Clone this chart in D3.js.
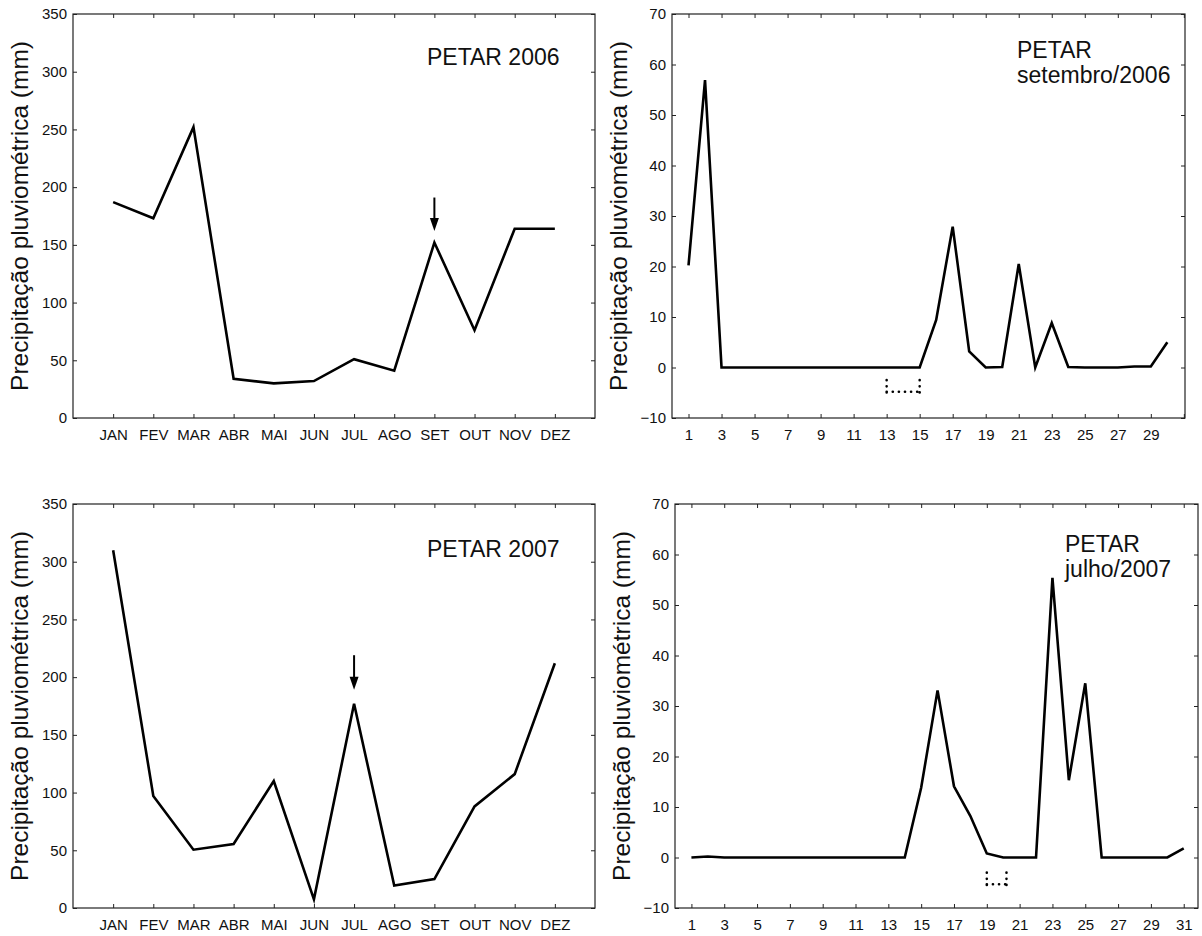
<!DOCTYPE html>
<html>
<head>
<meta charset="utf-8">
<script src="https://cdn.jsdelivr.net/npm/d3@7"></script>
<style>
  body { margin: 0; background: #fff; }
  svg text { font-family: "Liberation Sans", Arial, Helvetica, sans-serif; fill: #111; }
</style>
</head>
<body>
<script>
// month labels (portuguese)
var months = ["JAN", "FEV", "MAR", "ABR", "MAI", "JUN", "JUL", "AGO", "SET", "OUT", "NOV", "DEZ"];

// monthly rainfall (mm)
var rain2006 = [187, 173, 252, 34, 30, 32, 51, 41, 152, 76, 164, 164];
var rain2007 = [310, 97, 50.5, 55.5, 110, 7.5, 177, 19.5, 25, 88, 116, 212];

// daily rainfall (mm)
var rainSet2006 = [20.2, 56.9, 0, 0, 0, 0, 0, 0, 0, 0, 0, 0, 0, 0, 0,
                   9.4, 27.9, 3.2, 0, 0.1, 20.5, 0, 8.8, 0.1, 0, 0, 0, 0.2, 0.2, 5.0];
var rainJul2007 = [0, 0.2, 0, 0, 0, 0, 0, 0, 0, 0, 0, 0, 0, 0, 13.8, 33.1,
                   14.1, 8.2, 0.8, 0, 0, 0, 55.4, 15.3, 34.5, 0, 0, 0, 0, 0, 1.8];

// tick values
var monthTicks = d3.range(1, 13);
var dayTicks = d3.range(1, 32, 2);
var monthlyYTicks = [0, 50, 100, 150, 200, 250, 300, 350];
var dailyYTicks = [-10, 0, 10, 20, 30, 40, 50, 60, 70];

// annotations
var arrow2006 = {x: 9, from: 191, to: 162};
var arrow2007 = {x: 7, from: 219, to: 189};
var gapSet2006 = {x0: 13, x1: 15, top: -2.5, bottom: -6, mid: -4.8};
var gapJul2007 = {x0: 19, x1: 20.2, top: -3, bottom: -6.5, mid: -5.3};

var yTitle = "Precipitação pluviométrica (mm)";

var svg = d3.select("body").append("svg")
    .attr("width", 1202)
    .attr("height", 936);

function drawPanel(p) {
  var x = d3.scaleLinear().domain(p.xDomain).range([p.left, p.right]);
  var y = d3.scaleLinear().domain(p.yDomain).range([p.bottom, p.top]);
  var g = svg.append("g");

  // bottom axis with inward ticks
  var xb = g.append("g")
      .attr("transform", "translate(0," + p.bottom + ")")
      .call(d3.axisBottom(x).tickValues(p.xTicks).tickSizeInner(-4).tickSizeOuter(0)
        .tickPadding(11.4).tickFormat(p.xFormat));
  // top axis, ticks only
  var xt = g.append("g")
      .attr("transform", "translate(0," + p.top + ")")
      .call(d3.axisTop(x).tickValues(p.xTicks).tickSizeInner(-4).tickSizeOuter(0).tickFormat(""));
  // left axis
  var yl = g.append("g")
      .attr("transform", "translate(" + p.left + ",0)")
      .call(d3.axisLeft(y).tickValues(p.yTicks).tickSizeInner(-4).tickSizeOuter(0).tickPadding(6));
  // right axis, ticks only
  var yr = g.append("g")
      .attr("transform", "translate(" + p.right + ",0)")
      .call(d3.axisRight(y).tickValues(p.yTicks).tickSizeInner(-4).tickSizeOuter(0).tickFormat(""));

  [xb, xt, yl, yr].forEach(function(a) {
    a.select(".domain").remove();
    a.selectAll(".tick line").attr("stroke", "#222").attr("stroke-width", 1);
    a.selectAll("text").style("font-size", "15px")
      .style("font-family", "'Liberation Sans', Arial, sans-serif").attr("fill", "#111");
  });

  // frame
  g.append("rect")
    .attr("x", p.left).attr("y", p.top)
    .attr("width", p.right - p.left).attr("height", p.bottom - p.top)
    .attr("fill", "none").attr("stroke", "#222").attr("stroke-width", 1.2);

  // y title
  g.append("text")
    .attr("transform", "translate(" + (p.left - 45) + "," + ((p.top + p.bottom) / 2) + ") rotate(-90)")
    .attr("text-anchor", "middle")
    .style("font-size", "24.5px")
    .text(yTitle);

  // series line
  var line = d3.line()
      .x(function(d, i) { return x(i + 1); })
      .y(function(d) { return y(d); });
  g.append("path")
    .datum(p.values)
    .attr("d", line)
    .attr("fill", "none")
    .attr("stroke", "#000")
    .attr("stroke-width", 2.6)
    .attr("stroke-linejoin", "miter");

  // title lines
  g.selectAll(".ptitle").data(p.title).enter()
    .append("text")
    .attr("class", "ptitle")
    .attr("x", p.titleX)
    .attr("y", function(d, i) { return p.titleY + i * 25; })
    .style("font-size", "23px")
    .text(function(d) { return d; });

  // arrow
  if (p.arrow) {
    var a = p.arrow, ax = x(a.x), tip = y(a.to);
    g.append("line")
      .attr("x1", ax).attr("x2", ax)
      .attr("y1", y(a.from)).attr("y2", tip - 8)
      .attr("stroke", "#000").attr("stroke-width", 2);
    g.append("path")
      .attr("d", "M" + (ax - 4.5) + "," + (tip - 13) + "L" + (ax + 4.5) + "," + (tip - 13) + "L" + ax + "," + tip + "Z")
      .attr("fill", "#000");
  }

  // dotted gap marker
  if (p.gap) {
    var gp = p.gap;
    var d = "M" + x(gp.x0) + "," + y(gp.top) + "V" + y(gp.bottom) +
            "M" + x(gp.x0) + "," + y(gp.mid) + "H" + x(gp.x1) +
            "M" + x(gp.x1) + "," + y(gp.top) + "V" + y(gp.bottom);
    g.append("path")
      .attr("d", d)
      .attr("fill", "none")
      .attr("stroke", "#000")
      .attr("stroke-width", 2.6)
      .attr("stroke-linecap", "round")
      .attr("stroke-dasharray", "0.1,6");
  }
}

var monthFormat = function(d) { return months[d - 1]; };

drawPanel({
  left: 73, right: 595, top: 14, bottom: 418,
  xDomain: [0, 13], yDomain: [0, 350],
  xTicks: monthTicks, xFormat: monthFormat, yTicks: monthlyYTicks,
  values: rain2006, title: ["PETAR 2006"], titleX: 427, titleY: 65,
  arrow: arrow2006
});

drawPanel({
  left: 672, right: 1185, top: 14, bottom: 418,
  xDomain: [0, 31.07], yDomain: [-10, 70],
  xTicks: dayTicks, xFormat: function(d) { return d < 31 ? d : ""; }, yTicks: dailyYTicks,
  values: rainSet2006, title: ["PETAR", "setembro/2006"], titleX: 1017, titleY: 58,
  gap: gapSet2006
});

drawPanel({
  left: 73, right: 595, top: 504, bottom: 908,
  xDomain: [0, 13], yDomain: [0, 350],
  xTicks: monthTicks, xFormat: monthFormat, yTicks: monthlyYTicks,
  values: rain2007, title: ["PETAR 2007"], titleX: 427, titleY: 557,
  arrow: arrow2007
});

drawPanel({
  left: 675, right: 1198, top: 504, bottom: 908,
  xDomain: [0, 31.87], yDomain: [-10, 70],
  xTicks: dayTicks, xFormat: function(d) { return d; }, yTicks: dailyYTicks,
  values: rainJul2007, title: ["PETAR", "julho/2007"], titleX: 1065, titleY: 552,
  gap: gapJul2007
});
</script>
</body>
</html>
